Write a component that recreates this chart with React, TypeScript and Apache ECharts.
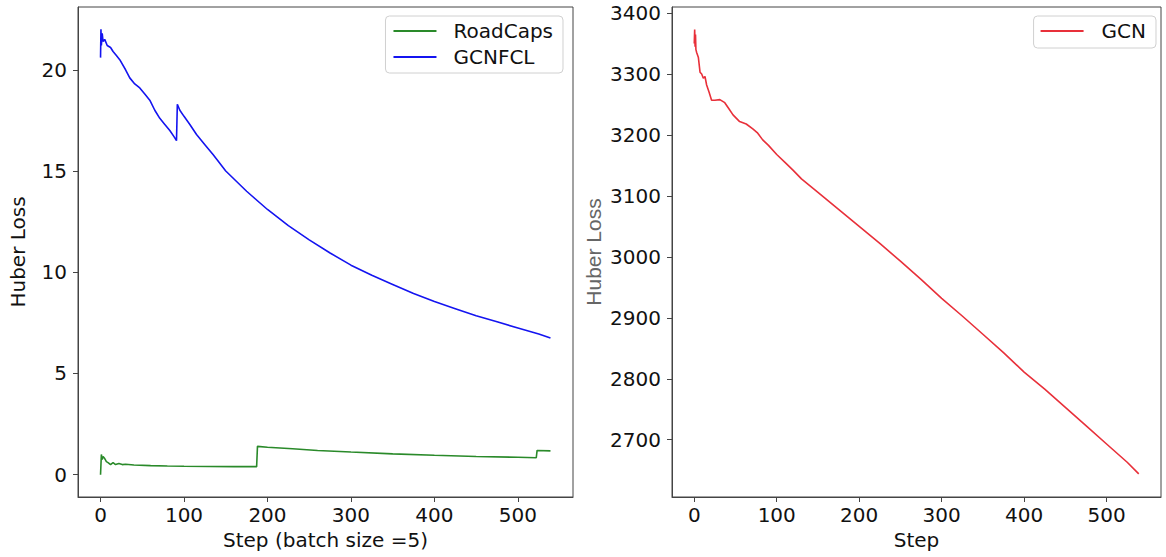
import React, { useEffect, useRef } from "react";
import * as echarts from "echarts";

const gcnfclSteps = [0, 0.5, 1, 2, 3, 5, 8, 12, 15, 19, 23, 30, 35, 41, 47, 53, 59, 65, 71, 77, 83, 88, 91, 92, 95, 100, 107, 115, 125, 135, 150, 175, 200, 225, 250, 275, 300, 325, 350, 375, 400, 425, 450, 475, 500, 525, 539];
const gcnfclValues = [20.6, 22.0, 21.2, 21.8, 21.4, 21.5, 21.2, 21.1, 20.9, 20.7, 20.5, 20.0, 19.6, 19.3, 19.1, 18.8, 18.5, 18.0, 17.6, 17.3, 17.0, 16.7, 16.5, 18.3, 18.0, 17.7, 17.3, 16.8, 16.3, 15.8, 15.0, 14.0, 13.1, 12.3, 11.6, 10.95, 10.35, 9.85, 9.4, 8.95, 8.55, 8.2, 7.85, 7.55, 7.25, 6.95, 6.75];

const roadcapsSteps = [0, 1, 2, 3, 5, 7, 9, 12, 15, 18, 22, 26, 30, 40, 60, 80, 100, 130, 160, 187, 188, 200, 230, 260, 300, 350, 400, 450, 500, 522, 523, 539];
const roadcapsValues = [0.0, 1.0, 0.75, 0.9, 0.8, 0.65, 0.6, 0.5, 0.6, 0.5, 0.55, 0.5, 0.52, 0.48, 0.45, 0.43, 0.42, 0.41, 0.4, 0.4, 1.4, 1.36, 1.28, 1.2, 1.12, 1.03, 0.96, 0.9, 0.86, 0.84, 1.2, 1.18];

const gcnSteps = [0, 0.5, 1, 1.5, 2, 3, 5, 7, 9, 11, 13, 15, 18, 21, 25, 31, 37, 42, 47, 55, 63, 71, 77, 83, 90, 100, 110, 120, 130, 140, 150, 175, 200, 225, 250, 275, 300, 325, 350, 375, 400, 425, 450, 475, 500, 525, 539];
const gcnValues = [3350, 3373, 3345, 3365, 3340, 3335, 3327, 3303, 3300, 3293, 3296, 3282, 3270, 3257, 3257, 3258, 3253, 3243, 3233, 3222, 3218, 3210, 3203, 3192, 3183, 3168, 3155, 3142, 3128, 3117, 3106, 3078, 3050, 3022, 2993, 2963, 2932, 2903, 2873, 2843, 2811, 2783, 2753, 2723, 2693, 2663, 2644];

const xTicks = [0, 100, 200, 300, 400, 500];
const leftYTicks = [0, 5, 10, 15, 20];
const rightYTicks = [2700, 2800, 2900, 3000, 3100, 3200, 3300, 3400];

const FONT = "DejaVu Sans";
const AX = "#444";

const pairs = (xs: number[], ys: number[]) => xs.map((x, i) => [x, ys[i]]);

export default function App() {
  const ref = useRef<HTMLDivElement>(null);
  useEffect(() => {
    if (!ref.current) return;
    const chart = echarts.init(ref.current, null, { renderer: "svg" });
    const xAxisBase = (idx: number, name: string) => ({
      type: "value",
      gridIndex: idx,
      min: -27,
      max: 566,
      name,
      nameLocation: "middle",
      nameGap: 30,
      nameTextStyle: { fontFamily: FONT, fontSize: 20, color: "#111" },
      axisLine: { show: true, onZero: false, lineStyle: { color: AX, width: 1 } },
      axisTick: { show: true, length: 5, customValues: xTicks, lineStyle: { color: AX } },
      axisLabel: { customValues: xTicks, margin: 8, fontFamily: FONT, fontSize: 20, color: "#111", formatter: (v: number) => String(v) },
      splitLine: { show: false },
    });
    const yAxisBase = (idx: number, min: number, max: number, ticks: number[]) => ({
      type: "value",
      gridIndex: idx,
      min,
      max,
      axisLine: { show: true, onZero: false, lineStyle: { color: AX, width: 1 } },
      axisTick: { show: true, length: 5, customValues: ticks, lineStyle: { color: AX } },
      axisLabel: { customValues: ticks, margin: 11, fontFamily: FONT, fontSize: 20, color: "#111", formatter: (v: number) => String(v) },
      splitLine: { show: false },
      nameLocation: "middle",
    });
    const option: any = {
      animation: false,
      backgroundColor: "#fff",
      grid: [
        { left: 78, top: 7, width: 495, height: 490, show: true, borderColor: AX, borderWidth: 1, backgroundColor: "transparent" },
        { left: 672, top: 7, width: 489, height: 490, show: true, borderColor: AX, borderWidth: 1, backgroundColor: "transparent" },
      ],
      xAxis: [xAxisBase(0, "Step (batch size =5)"), xAxisBase(1, "Step")],
      yAxis: [
        {
          ...yAxisBase(0, -1.1, 23.1, leftYTicks),
          name: "Huber Loss",
          nameGap: 50,
          nameTextStyle: { fontFamily: FONT, fontSize: 20, color: "#111" },
        },
        {
          ...yAxisBase(1, 2606, 3410, rightYTicks),
          name: "Huber Loss",
          nameGap: 68,
          nameTextStyle: { fontFamily: "Liberation Sans", fontSize: 21, color: "#666" },
        },
      ],
      legend: [
        {
          data: ["RoadCaps", "GCNFCL"],
          orient: "vertical",
          right: 603,
          top: 16,
          icon: "rect",
          itemWidth: 43,
          itemHeight: 2,
          itemGap: 6,
          padding: [5, 10, 6, 8],
          borderColor: "#d0d0d0",
          borderWidth: 1,
          borderRadius: 4,
          backgroundColor: "#fff",
          textStyle: { fontFamily: FONT, fontSize: 20, lineHeight: 20, color: "#111", padding: [0, 0, 0, 12] },
        },
        {
          data: ["GCN"],
          orient: "vertical",
          right: 10,
          top: 16,
          icon: "rect",
          itemWidth: 43,
          itemHeight: 2,
          padding: [5, 10, 7, 7],
          borderColor: "#d0d0d0",
          borderWidth: 1,
          borderRadius: 4,
          backgroundColor: "#fff",
          textStyle: { fontFamily: FONT, fontSize: 20, lineHeight: 20, color: "#111", padding: [0, 0, 0, 13] },
        },
      ],
      series: [
        {
          name: "RoadCaps",
          type: "line",
          xAxisIndex: 0,
          yAxisIndex: 0,
          symbol: "none",
          color: "#2a8a2a",
          lineStyle: { width: 1.6, color: "#2a8a2a" },
          data: pairs(roadcapsSteps, roadcapsValues),
        },
        {
          name: "GCNFCL",
          type: "line",
          xAxisIndex: 0,
          yAxisIndex: 0,
          symbol: "none",
          color: "#1414f0",
          lineStyle: { width: 1.6, color: "#1414f0" },
          data: pairs(gcnfclSteps, gcnfclValues),
        },
        {
          name: "GCN",
          type: "line",
          xAxisIndex: 1,
          yAxisIndex: 1,
          symbol: "none",
          color: "#e8303a",
          lineStyle: { width: 1.6, color: "#e8303a" },
          data: pairs(gcnSteps, gcnValues),
        },
      ],
    };
    chart.setOption(option);
    return () => chart.dispose();
  }, []);
  return <div ref={ref} style={{ position: "fixed", left: 0, top: 0, width: 1166, height: 557 }} />;
}
